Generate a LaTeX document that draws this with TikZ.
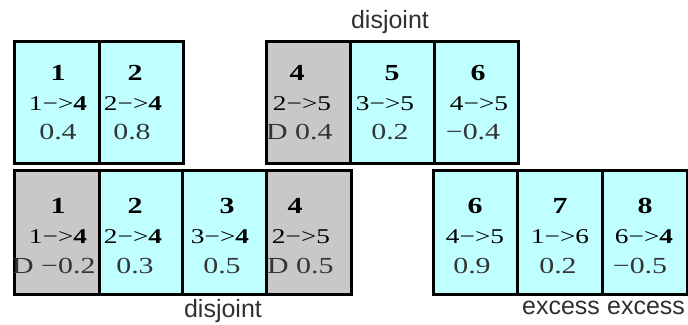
\documentclass[tikz,border=0pt]{standalone}
\usepackage{fontspec}
\setmainfont[FakeStretch=1.3]{Liberation Serif}
\newfontfamily\lblfont{Liberation Sans}
\definecolor{genecyan}{HTML}{C0FFFF}
\definecolor{genegray}{HTML}{C8C8C8}
\definecolor{wtgray}{HTML}{353535}
\definecolor{lblgray}{HTML}{303030}
\tikzset{
  genebox/.style={draw=black, line width=2.6pt, rectangle, inner sep=0pt,
    minimum width=#1, anchor=north west},
  toprow/.style={minimum height=122pt},
  botrow/.style={minimum height=124pt},
  cyanbox/.style={fill=genecyan},
  graybox/.style={fill=genegray},
  numtxt/.style={inner sep=0pt, anchor=base, font=\fontsize{23}{25}\selectfont\bfseries},
  contxt/.style={inner sep=0pt, anchor=base, font=\fontsize{21}{23}\selectfont},
  wttxt/.style={inner sep=0pt, anchor=base, text=wtgray, font=\fontsize{23}{25}\selectfont},
  dtxt/.style={inner sep=0pt, anchor=base west, text=wtgray, font=\fontsize{23}{25}\selectfont},
  lbltxt/.style={inner sep=0pt, anchor=base, text=lblgray, font=\lblfont\fontsize{25}{27}\selectfont},
}
\begin{document}
\begin{tikzpicture}[x=1pt, y=-1pt]
\useasboundingbox (0,0) rectangle (688,324);
% top row boxes
\node[genebox=85pt, toprow, cyanbox] (t1) at (13,40) {};
\node[genebox=84pt, toprow, cyanbox] (t2) at (98,40) {};
\node[genebox=84pt, toprow, graybox] (t4) at (265,40) {};
\node[genebox=84pt, toprow, cyanbox] (t5) at (349,40) {};
\node[genebox=84pt, toprow, cyanbox] (t6) at (433,40) {};
% bottom row boxes
\node[genebox=85pt, botrow, graybox] (b1) at (13,169) {};
\node[genebox=83pt, botrow, cyanbox] (b2) at (98,169) {};
\node[genebox=84pt, botrow, cyanbox] (b3) at (181,169) {};
\node[genebox=85pt, botrow, graybox] (b4) at (265,169) {};
\node[genebox=84pt, botrow, cyanbox] (b6) at (432,169) {};
\node[genebox=85pt, botrow, cyanbox] (b7) at (516,169) {};
\node[genebox=85pt, botrow, cyanbox] (b8) at (601,169) {};
% top row texts
\node[numtxt] (t1n) at (58,80) {1};
\node[contxt] (t1c) at (58,110) {1−>\textbf{4}};
\node[wttxt] (t1w) at (58,139) {0.4};
\node[numtxt] (t2n) at (135,80) {2};
\node[contxt] (t2c) at (133,110) {2−>\textbf{4}};
\node[wttxt] (t2w) at (132,139) {0.8};
\node[numtxt] (t4n) at (297,80) {4};
\node[contxt] (t4c) at (302,110) {2−>5};
\node[dtxt] (t4w) at (266,139) {D 0.4};
\node[numtxt] (t5n) at (392,80) {5};
\node[contxt] (t5c) at (385,110) {3−>5};
\node[wttxt] (t5w) at (390,139) {0.2};
\node[numtxt] (t6n) at (478,80) {6};
\node[contxt] (t6c) at (479,110) {4−>5};
\node[wttxt] (t6w) at (473,139) {−0.4};
% bottom row texts
\node[numtxt] (b1n) at (58,213) {1};
\node[contxt] (b1c) at (58,243) {1−>\textbf{4}};
\node[dtxt] (b1w) at (12,273) {D −0.2};
\node[numtxt] (b2n) at (135,213) {2};
\node[contxt] (b2c) at (133,243) {2−>\textbf{4}};
\node[wttxt] (b2w) at (135,273) {0.3};
\node[numtxt] (b3n) at (227,213) {3};
\node[contxt] (b3c) at (220,243) {3−>\textbf{4}};
\node[wttxt] (b3w) at (222,273) {0.5};
\node[numtxt] (b4n) at (295,213) {4};
\node[contxt] (b4c) at (301,243) {2−>5};
\node[dtxt] (b4w) at (267,273) {D 0.5};
\node[numtxt] (b6n) at (475,213) {6};
\node[contxt] (b6c) at (475,243) {4−>5};
\node[wttxt] (b6w) at (472,273) {0.9};
\node[numtxt] (b7n) at (560,213) {7};
\node[contxt] (b7c) at (560,243) {1−>6};
\node[wttxt] (b7w) at (558,273) {0.2};
\node[numtxt] (b8n) at (645,213) {8};
\node[contxt] (b8c) at (644,243) {6−>\textbf{4}};
\node[wttxt] (b8w) at (640,273) {−0.5};
% labels
\node[lbltxt] (lbltop) at (390,28) {disjoint};
\node[lbltxt] (lblbot) at (223,317) {disjoint};
\node[lbltxt] (lblex1) at (561,314) {excess};
\node[lbltxt] (lblex2) at (646,314) {excess};
\end{tikzpicture}
\end{document}
